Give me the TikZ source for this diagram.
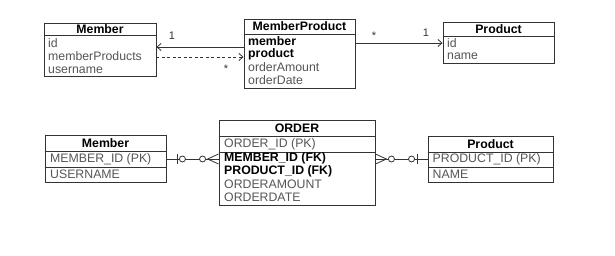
\documentclass[tikz,border=0pt]{standalone}
\usepackage{fontspec}
\setmainfont{Liberation Sans}
\usetikzlibrary{arrows.meta,shadows}
\definecolor{ln}{HTML}{333333}
\definecolor{gt}{HTML}{555555}
\begin{document}
\begin{tikzpicture}[x=1pt,y=-1pt,
  box/.style={draw=ln,line width=0.9pt,fill=white,inner sep=0pt,
    drop shadow={opacity=0.25,shadow xshift=0.8pt,shadow yshift=-0.8pt}},
  sep/.style={draw=ln,line width=0.8pt},
  ttl/.style={font=\fontsize{12.3}{14}\selectfont\bfseries,inner sep=0pt,text=black},
  att/.style={font=\fontsize{12.3}{14}\selectfont,inner sep=0pt,anchor=west,text=gt},
  key/.style={font=\fontsize{12.3}{14}\selectfont\bfseries,inner sep=0pt,anchor=west,text=black},
  conn/.style={draw=ln,line width=0.8pt},
  tipa/.style={-{Straight Barb[length=4pt,width=7pt]}},
  lbl/.style={font=\fontsize{11}{13}\selectfont,text=ln,inner sep=0pt}]
\useasboundingbox[fill=white] (0,0) rectangle (615,256);

% ---------- top: object model ----------
\node[box,minimum width=112pt,minimum height=53pt] (m1) at (100,49.5) {};
\draw[sep] (m1.west |- 0,35) -- (m1.east |- 0,35);
\node[ttl] (m1t) at (100,29) {Member};
\node[att] (m1a) at (48,43) {id};
\node[att] (m1b) at (48,56.5) {memberProducts};
\node[att] (m1c) at (48,70) {username};

\node[box,minimum width=111pt,minimum height=69pt] (mp) at (299.5,53.5) {};
\draw[sep] (mp.west |- 0,34) -- (mp.east |- 0,34);
\node[ttl] (mpt) at (299.5,26.5) {MemberProduct};
\node[key] (mpa) at (248,41) {member};
\node[key] (mpb) at (248,54) {product};
\node[att] (mpc) at (248,67) {orderAmount};
\node[att] (mpd) at (248,80) {orderDate};

\node[box,minimum width=111pt,minimum height=41pt] (p1) at (498.5,42.5) {};
\draw[sep] (p1.west |- 0,36) -- (p1.east |- 0,36);
\node[ttl] (p1t) at (498.5,29) {Product};
\node[att] (p1a) at (447,43) {id};
\node[att] (p1b) at (447,56) {name};

\coordinate (a1) at (mp.west |- 0,47);
\coordinate (a2) at (m1.east |- 0,47);
\draw[conn,tipa] (a1) -- (a2);
\coordinate (b1) at (m1.east |- 0,57);
\coordinate (b2) at (mp.west |- 0,57);
\draw[conn,tipa,dash pattern=on 3pt off 2.5pt] (b1) -- (b2);
\coordinate (c1) at (mp.east |- 0,43);
\coordinate (c2) at (p1.west |- 0,43);
\draw[conn,tipa] (c1) -- (c2);

\node[lbl] (l1) at (172,36) {1};
\node[lbl] (l2) at (226,69) {*};
\node[lbl] (l3) at (374,36) {*};
\node[lbl] (l4) at (426,33) {1};

% ---------- bottom: tables ----------
\node[box,minimum width=121pt,minimum height=47pt] (m2) at (105.5,158.5) {};
\draw[sep] (m2.west |- 0,151) -- (m2.east |- 0,151);
\draw[sep] (m2.west |- 0,167) -- (m2.east |- 0,167);
\node[ttl] (m2t) at (105.5,143) {Member};
\node[att] (m2a) at (50,159) {MEMBER\_ID (PK)};
\node[att] (m2b) at (50,174.5) {USERNAME};

\node[box,minimum width=156pt,minimum height=85pt] (o2) at (297,162.5) {};
\draw[sep] (o2.west |- 0,136) -- (o2.east |- 0,136);
\draw[sep] (o2.west |- 0,152) -- (o2.east |- 0,152);
\node[ttl] (o2t) at (297,128) {ORDER};
\node[att] (o2a) at (224,144) {ORDER\_ID (PK)};
\node[key] (o2b) at (224,158.5) {MEMBER\_ID (FK)};
\node[key] (o2c) at (224,171.5) {PRODUCT\_ID (FK)};
\node[att] (o2d) at (224,184.5) {ORDERAMOUNT};
\node[att] (o2e) at (224,197.5) {ORDERDATE};

\node[box,minimum width=125pt,minimum height=46pt] (p2) at (490.5,159) {};
\draw[sep] (p2.west |- 0,152) -- (p2.east |- 0,152);
\draw[sep] (p2.west |- 0,167) -- (p2.east |- 0,167);
\node[ttl] (p2t) at (490.5,144) {Product};
\node[att] (p2a) at (432.5,159.5) {PRODUCT\_ID (PK)};
\node[att] (p2b) at (432.5,174.5) {NAME};

% Member -- ORDER
\coordinate (e1) at (m2.east |- 0,159);
\coordinate (e2) at (o2.west |- 0,159);
\draw[conn] (e1) -- (e2);
\draw[conn] ([xshift=11pt]e1) ++(0,-5) -- ++(0,10);
\draw[conn,fill=white] ([xshift=16pt]e1) circle (3pt);
\draw[conn] ([xshift=-11pt]e2) -- ([yshift=5pt]e2);
\draw[conn] ([xshift=-11pt]e2) -- ([yshift=-5pt]e2);
\draw[conn,fill=white] ([xshift=-16pt]e2) circle (3pt);

% ORDER -- Product
\coordinate (f1) at (o2.east |- 0,159);
\coordinate (f2) at (p2.west |- 0,159);
\draw[conn] (f1) -- (f2);
\draw[conn] ([xshift=11pt]f1) -- ([yshift=5pt]f1);
\draw[conn] ([xshift=11pt]f1) -- ([yshift=-5pt]f1);
\draw[conn,fill=white] ([xshift=16pt]f1) circle (3pt);
\draw[conn,fill=white] ([xshift=-16pt]f2) circle (3pt);
\draw[conn] ([xshift=-10pt]f2) ++(0,-5) -- ++(0,10);
\end{tikzpicture}
\end{document}
